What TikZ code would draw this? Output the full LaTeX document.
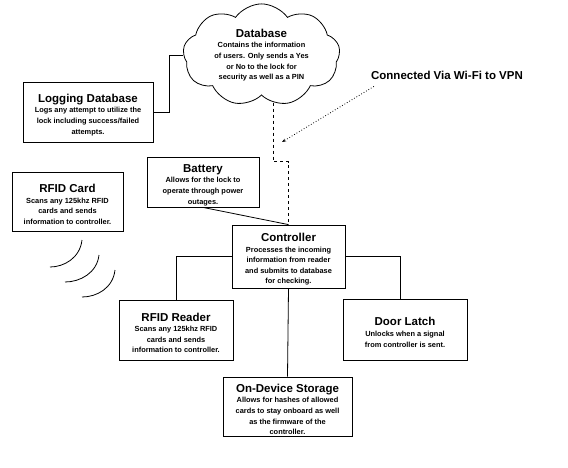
\documentclass[tikz,border=0pt]{standalone}
\usepackage{fontspec}
\setmainfont{Liberation Sans}
\usetikzlibrary{shapes.symbols,arrows.meta}
\newcommand\cloudtitle[1]{{\fontsize{11.5}{12}\selectfont #1}}
\newcommand\boxtitle[1]{{\fontsize{11.5}{12}\selectfont\rule{0pt}{14pt}#1}}
\begin{document}
\begin{tikzpicture}[x=1pt,y=-1pt,
  box/.style={draw, line width=0.8pt, align=center, inner sep=0pt,
    font=\fontsize{7.4}{10.6}\selectfont\bfseries},
  link/.style={line width=0.8pt},
  dashlink/.style={line width=0.8pt, dashed},
  wave/.style={line width=0.8pt},
]
\useasboundingbox (0,0) rectangle (568,467);
\fill[white] (0,0) rectangle (568,467);

\node[box, cloud, cloud puffs=9, cloud puff arc=110, aspect=1.6,
  minimum width=157pt, minimum height=100pt] (db) at (261.5,55)
  {\cloudtitle{Database}\\Contains the information\\of users. Only sends a Yes\\or No to the lock for\\security as well as a PIN};

\node[box, minimum width=130pt, minimum height=60pt] (log) at (88,112)
  {\boxtitle{Logging Database}\\Logs any attempt to utilize the\\lock including success/failed\\attempts.};

\node[box, minimum width=111pt, minimum height=59pt] (card) at (67.5,201.5)
  {\boxtitle{RFID Card}\\Scans any 125khz RFID\\cards and sends\\information to controller.};

\node[box, minimum width=112pt, minimum height=50pt] (bat) at (203,182)
  {\boxtitle{Battery}\\Allows for the lock to\\operate through power\\outages.};

\node[box, minimum width=113pt, minimum height=63pt] (ctrl) at (288.5,256.5)
  {\boxtitle{Controller}\\Processes the incoming\\information from reader\\and submits to database\\for checking.};

\node[box, minimum width=114pt, minimum height=60pt] (reader) at (176,330)
  {\boxtitle{RFID Reader}\\Scans any 125khz RFID\\cards and sends\\information to controller.};

\node[box, minimum width=124pt, minimum height=61pt] (latch) at (405,329.5)
  {\boxtitle{Door Latch}\\Unlocks when a signal\\from controller is sent.};

\node[box, minimum width=129pt, minimum height=59pt] (store) at (287.5,406.5)
  {\boxtitle{On-Device Storage}\\Allows for hashes of allowed\\cards to stay onboard as well\\as the firmware of the\\controller.};

\node[font=\fontsize{11.5}{13}\selectfont\bfseries, inner sep=0pt] (wifi) at (447,75)
  {Connected Via Wi-Fi to VPN};
\coordinate (wifiend) at (282,142);

\draw[link] (log.east) -- ++(16,0) |- (db.west);
\draw[dashlink] (db.-76) -- ++(0,59) -| (ctrl.north);
\draw[link] (bat.south) -- (ctrl.north);
\draw[line width=0.8pt, dotted, -{Stealth[length=4pt,width=3pt]}]
  ([xshift=3pt,yshift=-7pt]wifi.south west) -- (wifiend);
\draw[link] (ctrl.west) -| (reader.north);
\draw[link] (ctrl.east) -| ([xshift=-5pt]latch.north);
\draw[link] (ctrl.south) -- (store.north);

\draw[wave] (82,240) .. controls (80,258) and (64,267) .. (50,267);
\draw[wave] (99,255) .. controls (97,273) and (80,282) .. (65,282);
\draw[wave] (115,270) .. controls (113,288) and (97,297) .. (82,297);
\end{tikzpicture}
\end{document}
